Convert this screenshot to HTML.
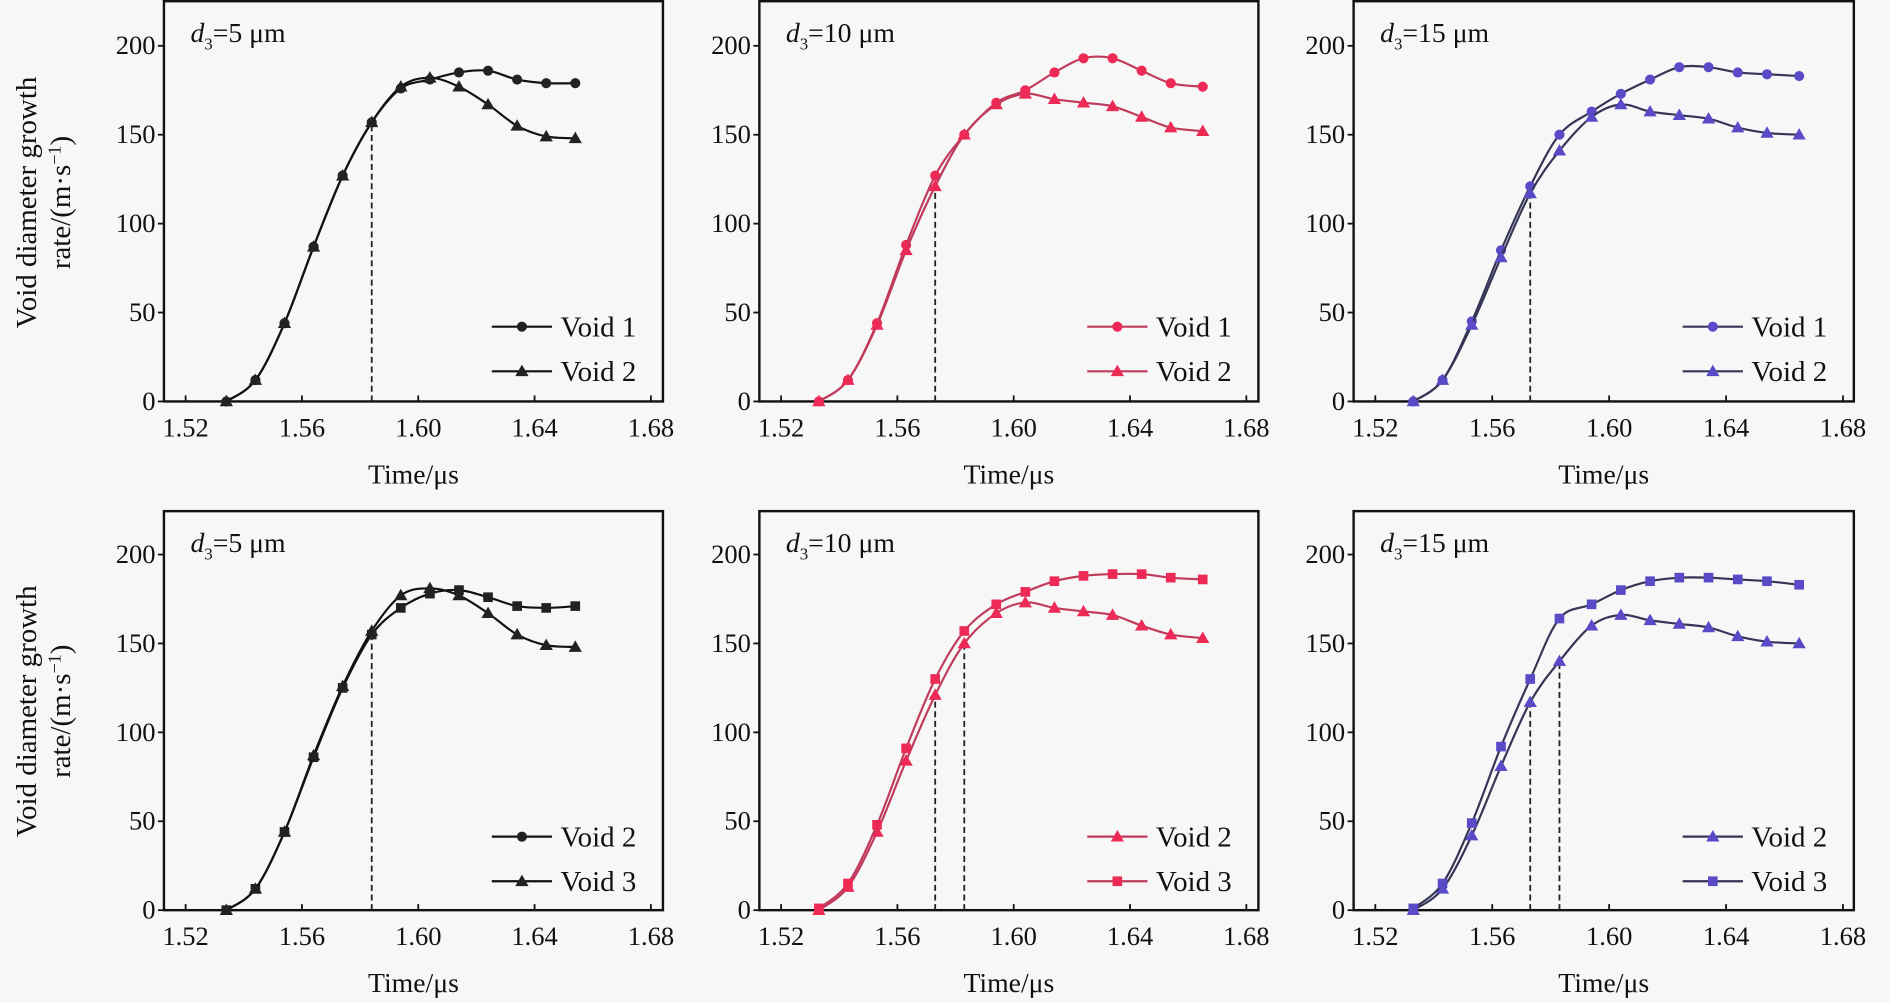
<!DOCTYPE html>
<html><head><meta charset="utf-8">
<style>
html,body{margin:0;padding:0;background:#f7f7f7;}
svg{display:block;}
text{font-family:"Liberation Serif",serif;fill:#111;}
</style></head>
<body>
<svg id="chart" width="1890" height="1003" viewBox="0 0 1568 832" preserveAspectRatio="none" xmlns="http://www.w3.org/2000/svg"></svg>
<script>
// ---- data ----
const xTicks = [1.52, 1.56, 1.60, 1.64, 1.68];
const xTickLabels = ["1.52", "1.56", "1.60", "1.64", "1.68"];
const yTicks = [0, 50, 100, 150, 200];
const times13 = [1.534,1.544,1.554,1.564,1.574,1.584,1.594,1.604,1.614,1.624,1.634,1.644,1.654];
const times14 = [1.533,1.543,1.553,1.563,1.573,1.583,1.594,1.604,1.614,1.624,1.634,1.644,1.654,1.665];
const p1Void1 = [0,12,44,87,127,157,176,181,185,186,181,179,179];
const p1Void2 = [0,12,44,87,127,157,177,182,177,167,155,149,148];
const p2Void1 = [0,12,44,88,127,150,168,175,185,193,193,186,179,177];
const p2Void2 = [0,12,43,85,121,150,167,173,170,168,166,160,154,152];
const p3Void1 = [0,12,45,85,121,150,163,173,181,188,188,185,184,183];
const p3Void2 = [0,12,43,81,117,141,160,167,163,161,159,154,151,150];
const p4Void2 = [0,12,44,86,125,155,170,178,180,176,171,170,171];
const p4Void3 = [0,12,44,87,126,157,177,181,177,167,155,149,148];
const p5Void2 = [0,13,44,84,121,150,167,173,170,168,166,160,155,153];
const p5Void3 = [1,15,48,91,130,157,172,179,185,188,189,189,187,186];
const p6Void2 = [0,12,42,81,117,140,160,166,163,161,159,154,151,150];
const p6Void3 = [1,15,49,92,130,164,172,180,185,187,187,186,185,183];
const dashTimes = [[1.584],[1.573],[1.573],[1.584],[1.573,1.583],[1.573,1.583]];
const panelLabels = ["5","10","15","5","10","15"];

const NS="http://www.w3.org/2000/svg";
const svg=document.getElementById('chart');
function mk(tag,attrs,parent){const e=document.createElementNS(NS,tag);for(const k in attrs)e.setAttribute(k,attrs[k]);(parent||svg).appendChild(e);return e;}

const cols=[{l:136,r:550,x0:154,x1:540},{l:630,r:1044,x0:648,x1:1034},{l:1123,r:1538,x0:1141,x1:1529}];
const rows=[{t:0,b:333,y0:333,y200:38},{t:423,b:755,y0:755,y200:460}];
const BLK={line:'#111',mk:'#222'}, RED={line:'#c03a5c',mk:'#ec2a55'}, BLU={line:'#353555',mk:'#5a4ac8'};
const panels=[
 {c:0,r:0,sty:BLK,series:[{n:'Void 1',t:times13,v:p1Void1,m:'circle'},{n:'Void 2',t:times13,v:p1Void2,m:'tri'}]},
 {c:1,r:0,sty:RED,series:[{n:'Void 1',t:times14,v:p2Void1,m:'circle'},{n:'Void 2',t:times14,v:p2Void2,m:'tri'}]},
 {c:2,r:0,sty:BLU,series:[{n:'Void 1',t:times14,v:p3Void1,m:'circle'},{n:'Void 2',t:times14,v:p3Void2,m:'tri'}]},
 {c:0,r:1,sty:BLK,series:[{n:'Void 2',t:times13,v:p4Void2,m:'square',lm:'circle'},{n:'Void 3',t:times13,v:p4Void3,m:'tri'}]},
 {c:1,r:1,sty:RED,series:[{n:'Void 2',t:times14,v:p5Void2,m:'tri'},{n:'Void 3',t:times14,v:p5Void3,m:'square'}]},
 {c:2,r:1,sty:BLU,series:[{n:'Void 2',t:times14,v:p6Void2,m:'tri'},{n:'Void 3',t:times14,v:p6Void3,m:'square'}]}
];

function marker(g,type,x,y,color){
  let e;
  if(type==='circle') e=mk('circle',{cx:x,cy:y,r:4.2,fill:color},g);
  else if(type==='square') e=mk('rect',{x:x-4,y:y-4,width:8,height:8,fill:color},g);
  else e=mk('polygon',{points:`${x},${y-5.5} ${x-5.5},${y+4} ${x+5.5},${y+4}`,fill:color},g);
  
  
}
function smooth(pts){
  let d=`M${pts[0][0]},${pts[0][1]}`;
  for(let i=0;i<pts.length-1;i++){
    const p0=pts[Math.max(0,i-1)],p1=pts[i],p2=pts[i+1],p3=pts[Math.min(pts.length-1,i+2)];
    const c1=[p1[0]+(p2[0]-p0[0])/6,p1[1]+(p2[1]-p0[1])/6];
    const c2=[p2[0]-(p3[0]-p1[0])/6,p2[1]-(p3[1]-p1[1])/6];
    d+=` C${c1[0]},${c1[1]} ${c2[0]},${c2[1]} ${p2[0]},${p2[1]}`;
  }
  return d;
}
function interp(t,v,x){for(let i=0;i<t.length-1;i++){if(x>=t[i]-1e-9&&x<=t[i+1]+1e-9){const f=(x-t[i])/(t[i+1]-t[i]);return v[i]+f*(v[i+1]-v[i]);}}return v[v.length-1];}

panels.forEach((p,pi)=>{
  const C=cols[p.c],R=rows[p.r];
  const xs=t=>C.x0+(t-1.52)/0.16*(C.x1-C.x0);
  const ys=v=>R.y0-v/200*(R.y0-R.y200);
  const g=mk('g',{});
  
  
  const frame=mk('rect',{x:C.l,y:R.t+1,width:C.r-C.l,height:R.b-R.t-1,fill:'none',stroke:'#111','stroke-width':2},g);
  
  
  yTicks.forEach(v=>{
    const y=ys(v);
    mk('line',{x1:C.l-5,x2:C.l,y1:y,y2:y,stroke:'#111','stroke-width':1.5},g);
    const tx=mk('text',{x:C.l-7,y:y+7,'font-size':22,'text-anchor':'end'},g);
    tx.textContent=String(v);
    
    
  });
  xTicks.forEach((t,i)=>{
    const x=xs(t);
    mk('line',{x1:x,x2:x,y1:R.b,y2:R.b-5,stroke:'#111','stroke-width':1.5},g);
    const tx=mk('text',{x:x,y:R.b+29,'font-size':22,'text-anchor':'middle'},g);
    tx.textContent=xTickLabels[i];
    
    
  });
  const xt=mk('text',{x:(C.l+C.r)/2,y:R.b+68,'font-size':23,'text-anchor':'middle'},g);
  xt.textContent='Time/μs';
  
  
  const lab=mk('text',{x:C.l+22,y:R.t+35,'font-size':23},g);
  lab.innerHTML=`<tspan font-style="italic">d</tspan><tspan font-size="14" dy="6">3</tspan><tspan dy="-6">=${panelLabels[pi]} μm</tspan>`;
  
  
  dashTimes[pi].forEach(dt=>{
    const top=Math.min(...p.series.map(s=>interp(s.t,s.v,dt)));
    const dl=mk('line',{x1:xs(dt),x2:xs(dt),y1:R.b,y2:ys(top),stroke:'#222','stroke-width':1.5,'stroke-dasharray':'5,3'},g);
    
    
  });
  p.series.forEach((s,si)=>{
    const pts=s.t.map((t,i)=>[xs(t),ys(s.v[i])]);
    const path=mk('path',{d:smooth(pts),fill:'none',stroke:p.sty.line,'stroke-width':1.8},g);
    
    
    pts.forEach(q=>marker(g,s.m,q[0],q[1],p.sty.mk));
    const ly=R.t+271+si*37, lx=C.r-142;
    const lg=mk('g',{},g);
    
    
    mk('line',{x1:lx,x2:lx+50,y1:ly,y2:ly,stroke:p.sty.line,'stroke-width':1.8},lg);
    marker(lg,s.lm||s.m,lx+25,ly,p.sty.mk);
    const lt=mk('text',{x:lx+57,y:ly+8,'font-size':24},lg);
    lt.textContent=s.n;
  });
});
[168,590].forEach(cy=>{
  const t1=mk('text',{x:0,y:0,'font-size':24,'text-anchor':'middle',transform:`translate(30,${cy}) rotate(-90)`});
  t1.textContent='Void diameter growth';
  
  
  const t2=mk('text',{x:0,y:0,'font-size':24,'text-anchor':'middle',transform:`translate(58,${cy}) rotate(-90)`});
  t2.innerHTML='rate/(m·s<tspan font-size="15" dy="-8">−1</tspan><tspan dy="8">)</tspan>';
  
  
});
</script>
</body></html>
